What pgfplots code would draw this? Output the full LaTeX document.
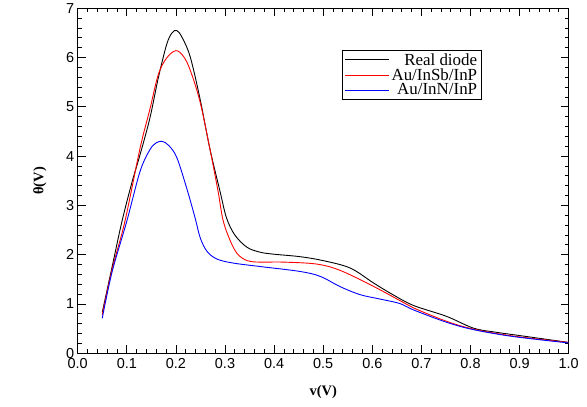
\documentclass[border=0pt]{standalone}
\usepackage{fontspec}
\setmainfont{Liberation Serif}
\setsansfont{Liberation Sans}
\usepackage{pgfplots}
\pgfplotsset{compat=1.18}

% theta vs bias for three structures
\pgfplotstableread{
v     th
0.050 0.83
0.070 1.75
0.090 2.67
0.110 3.45
0.127 4.03
0.147 4.77
0.164 5.58
0.181 6.26
0.192 6.50
0.2015 6.55
0.212 6.42
0.229 6.02
0.249 5.17
0.269 4.16
0.290 3.28
0.303 2.75
0.320 2.40
0.345 2.15
0.372 2.05
0.400 2.01
0.453 1.96
0.500 1.88
0.555 1.73
0.602 1.43
0.640 1.20
0.684 0.97
0.751 0.75
0.806 0.51
0.850 0.43
0.900 0.36
0.950 0.29
1.000 0.22
}\realdiode

\pgfplotstableread{
v     th
0.050 0.78
0.070 1.70
0.096 2.67
0.127 4.16
0.147 4.95
0.164 5.65
0.181 5.99
0.200 6.14
0.215 6.03
0.229 5.75
0.249 5.11
0.269 4.16
0.286 3.28
0.296 2.70
0.310 2.30
0.325 2.02
0.345 1.88
0.370 1.85
0.419 1.85
0.487 1.81
0.535 1.68
0.602 1.36
0.656 1.07
0.684 0.92
0.751 0.65
0.806 0.49
0.887 0.35
1.000 0.22
}\insb

\pgfplotstableread{
v     th
0.050 0.71
0.070 1.65
0.0997 2.67
0.127 3.69
0.147 4.13
0.160 4.27
0.172 4.30
0.185 4.22
0.2015 3.98
0.222 3.35
0.239 2.75
0.250 2.33
0.264 2.06
0.284 1.91
0.317 1.83
0.372 1.76
0.453 1.66
0.494 1.56
0.535 1.35
0.575 1.19
0.616 1.10
0.656 1.01
0.684 0.88
0.751 0.63
0.806 0.48
0.887 0.34
1.000 0.21
}\innn

\begin{document}
\begin{tikzpicture}
\begin{axis}[
    scale only axis,
    width=491bp, height=345bp,
    xmin=0, xmax=1, ymin=0, ymax=7,
    xtick={0,0.1,...,1.0},
    ytick={0,1,...,7},
    minor x tick num=4,
    minor y tick num=4,
    tick align=inside,
    major tick length=8bp,
    minor tick length=4bp,
    axis line style={line width=1pt},
    every tick/.style={black, line width=0.8pt},
    ticklabel style={font=\fontsize{14.5}{16}\sffamily},
    /pgf/number format/assume math mode=true,
    xticklabel style={yshift=-2bp, /pgf/number format/.cd, fixed, fixed zerofill, precision=1},
    yticklabel style={/pgf/number format/.cd, fixed, precision=0},
    xlabel={\textbf{v(V)}},
    ylabel={\textbf{θ(V)}},
    label style={font=\fontsize{14.5}{16}\selectfont},
    xlabel style={at={(axis description cs:0.5,-0.111)}, anchor=center},
    ylabel style={at={(axis description cs:-0.077,0.5)}, anchor=center, rotate=0},
    legend style={at={(rel axis cs:0.539,0.879)}, anchor=north west,
        font=\fontsize{17}{19}\selectfont, draw=black, line width=0.6pt,
        inner xsep=2pt, inner ysep=1pt, row sep=-2pt},
    legend cell align=right,
    legend image code/.code={\draw[#1, line width=0.9pt] (0bp,0bp) -- (44bp,0bp);},
    every axis plot/.append style={line width=0.9pt, smooth, tension=0.55},
]
\addplot[black] table[x=v, y=th] {\realdiode};
\addlegendentry{Real diode}
\addplot[red] table[x=v, y=th] {\insb};
\addlegendentry{Au/InSb/InP}
\addplot[blue] table[x=v, y=th] {\innn};
\addlegendentry{Au/InN/InP}
\end{axis}
\path (current axis.south west) ++(-77.7bp,-53.2bp) rectangle ++(587bp,405bp);
\end{tikzpicture}
\end{document}
